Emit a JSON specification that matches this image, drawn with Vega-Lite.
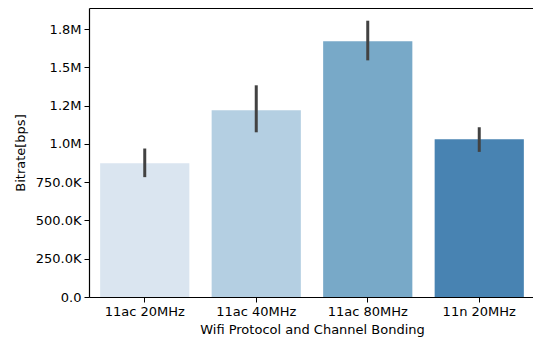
{
  "$schema": "https://vega.github.io/schema/vega-lite/v6.json",
  "width": 446,
  "height": 289,
  "autosize": {"type": "none"},
  "padding": {"left": 89, "top": 8, "right": 0, "bottom": 43},
  "background": "white",
  "config": {
    "font": "DejaVu Sans",
    "view": {"stroke": null},
    "axis": {
      "domain": true,
      "domainColor": "black",
      "domainWidth": 1.2,
      "grid": false,
      "tickColor": "black",
      "tickSize": 5,
      "tickWidth": 1,
      "labelColor": "black",
      "labelFont": "DejaVu Sans",
      "labelFontSize": 13,
      "titleFont": "DejaVu Sans",
      "titleFontSize": 13,
      "titleFontWeight": "normal",
      "titleColor": "black",
      "labelPadding": 3
    }
  },
  "data": {
    "values": [
      {"protocol": "11ac 20MHz", "bitrate": 874000, "lo": 783000, "hi": 970000},
      {"protocol": "11ac 40MHz", "bitrate": 1220000, "lo": 1076000, "hi": 1383000},
      {"protocol": "11ac 80MHz", "bitrate": 1670000, "lo": 1546000, "hi": 1805000},
      {"protocol": "11n 20MHz", "bitrate": 1031000, "lo": 948000, "hi": 1109000}
    ]
  },
  "layer": [
    {
      "mark": {"type": "bar"},
      "encoding": {
        "x": {
          "field": "protocol",
          "type": "nominal",
          "sort": null,
          "title": "Wifi Protocol and Channel Bonding",
          "scale": {"paddingInner": 0.2, "paddingOuter": 0.1},
          "axis": {"labelAngle": 0, "titlePadding": 5}
        },
        "y": {
          "field": "bitrate",
          "type": "quantitative",
          "title": "Bitrate[bps]",
          "scale": {"domain": [0, 1888000], "nice": false, "zero": true},
          "axis": {
            "values": [0, 250000, 500000, 750000, 1000000, 1250000, 1500000, 1750000],
            "labelExpr": "datum.value == 0 ? '0.0' : datum.value == 1250000 ? '1.2M' : datum.value == 1750000 ? '1.8M' : datum.value >= 1000000 ? format(datum.value/1000000, '.1f') + 'M' : format(datum.value/1000, '.1f') + 'K'",
            "titlePadding": 8
          }
        },
        "color": {
          "field": "protocol",
          "type": "nominal",
          "sort": null,
          "scale": {"range": ["#dae5f0", "#b4cfe2", "#78a9c8", "#4883b2"]},
          "legend": null
        }
      }
    },
    {
      "mark": {"type": "rule", "color": "#424242", "strokeWidth": 3},
      "encoding": {
        "x": {
          "field": "protocol",
          "type": "nominal",
          "sort": null,
          "axis": {"orient": "top", "labels": false, "ticks": false, "title": null}
        },
        "y": {"field": "lo", "type": "quantitative"},
        "y2": {"field": "hi"}
      }
    }
  ],
  "resolve": {"axis": {"x": "independent"}}
}
